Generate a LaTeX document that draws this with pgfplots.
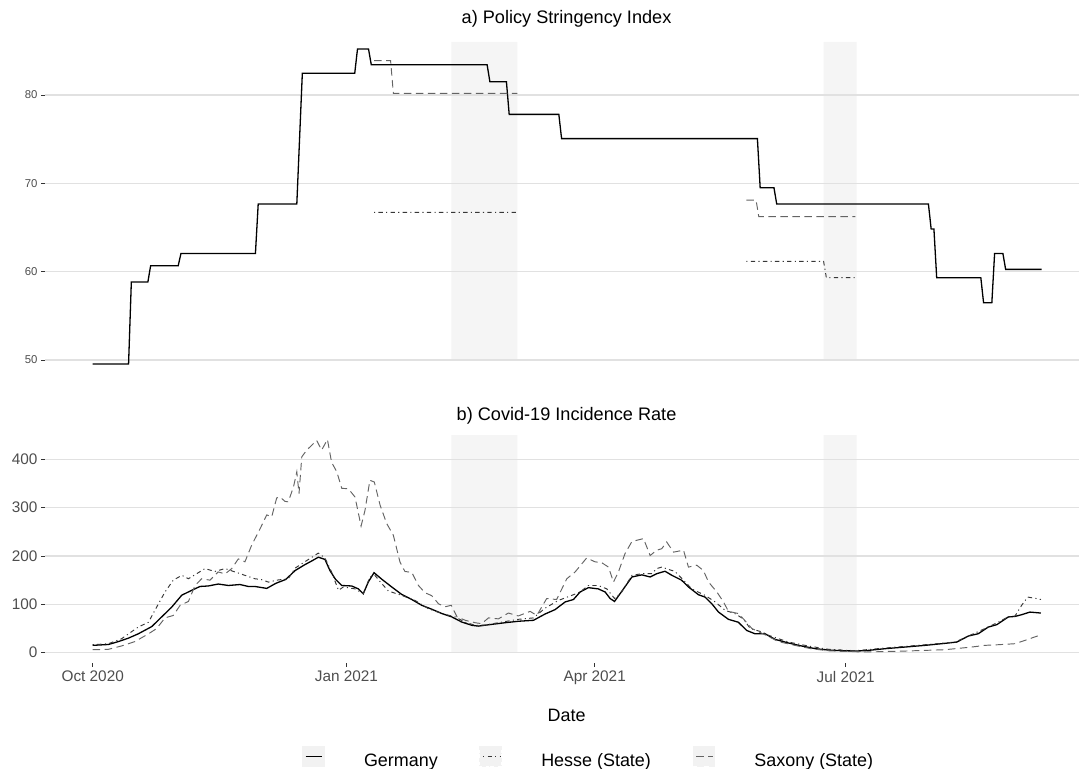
\documentclass[border=0pt]{standalone}
\usepackage{pgfplots}
\pgfplotsset{compat=1.18}
\usepackage{fontspec}
\setmainfont{Liberation Sans}
\definecolor{gridc}{RGB}{225,225,225}
\definecolor{shadec}{RGB}{245,245,245}
\definecolor{tickc}{RGB}{77,77,77}
\definecolor{tickm}{RGB}{51,51,51}
\definecolor{hessec}{RGB}{55,55,55}
\definecolor{saxc}{RGB}{100,100,100}
\pgfplotsset{
 germany/.style={black, line width=1.3bp},
 hesse/.style={hessec, line width=0.95bp, dash pattern=on 1.1bp off 3.3bp on 4.4bp off 3.3bp},
 saxony/.style={saxc, line width=0.95bp, dash pattern=on 7.5bp off 4.5bp},
 basepanel/.style={scale only axis, width=1043.1bp, xmin=-17.3, xmax=360.9,
  axis line style={draw=none}, ymajorgrids, grid style={gridc, line width=1.1bp},
  tick align=outside, major tick length=4bp, tick style={color=tickm, line width=0.8bp},
  tick pos=left, /pgf/number format/assume math mode=true, unbounded coords=jump,
  set layers, clip=true},
 shadeplot/.style={draw=none, fill=shadec, on layer=axis background, forget plot},
}
\begin{document}
\begin{tikzpicture}
% ---------- top panel
\begin{axis}[basepanel, at={(45bp,389bp)}, anchor=south west, height=347bp,
  ymin=47.74, ymax=87.02, ytick={50,60,70,80}, xtick=\empty,
  yticklabel style={font=\fontsize{11.4}{13}\selectfont, text=tickc, anchor=east, inner sep=0pt, xshift=-3.3bp},
  title={a) Policy Stringency Index},
  every axis title/.style={font=\fontsize{18.2}{22}\selectfont, at={(0.5,1)}, anchor=base, yshift=9bp}]
\addplot[shadeplot] coordinates {(130,50) (154,50) (154,86) (130,86) (130,50)};
\addplot[shadeplot] coordinates {(265,50) (277,50) (277,86) (265,86) (265,50)};
\addplot[germany] coordinates {
(0,49.55) (13,49.55) (14,58.83) (20,58.83) (21,60.68) (31,60.68) (32,62.07) (59,62.07)
(60,67.66) (74,67.66) (76,82.46) (95,82.46) (96,85.2) (100,85.2) (101,83.43) (143,83.43)
(144,81.51) (150,81.51) (151,77.81) (169,77.81) (170,75.06) (241,75.06) (242,69.51) (247,69.51)
(248,67.66) (303,67.66) (304,64.83) (305,64.83) (306,59.32) (322,59.32) (323,56.49) (326,56.49)
(327,62.07) (330,62.07) (331,60.26) (344,60.26)};
\addplot[hesse] coordinates {
(102,66.72) (154,66.72) (200,nan) (237,61.17) (265,61.17) (266,59.32) (276.5,59.32)};
\addplot[saxony] coordinates {
(102,83.89) (108,83.89) (109,80.19) (154,80.19) (200,nan) (237,68.11) (240.5,68.11) (241.5,66.23) (276.5,66.23)};
\end{axis}
% ---------- bottom panel
\begin{axis}[basepanel, at={(45bp,106bp)}, anchor=south west, height=236bp,
  ymin=-21.3, ymax=466.8, ytick={0,100,200,300,400},
  xtick={0,92,182,273}, xticklabels={Oct 2020,Jan 2021,Apr 2021,Jul 2021},
  yticklabel style={font=\fontsize{15.4}{18}\selectfont, text=tickc, anchor=east, inner sep=0pt, xshift=-3.3bp},
  xticklabel style={font=\fontsize{15.4}{18}\selectfont, text=tickc, anchor=north, inner sep=0pt, yshift=-4bp},
  title={b) Covid-19 Incidence Rate},
  every axis title/.style={font=\fontsize{18.2}{22}\selectfont, at={(0.5,1)}, anchor=base, yshift=6.3bp},
  xlabel={Date},
  xlabel style={font=\fontsize{18}{22}\selectfont, at={(axis description cs:0.5,0)}, anchor=base, yshift=-59bp},
  legend cell align=left,
  legend image code/.code={\fill[black!5] (0bp,-5.1bp) rectangle (21.6bp,14.9bp); \draw[#1] (3.3bp,4.9bp) -- (20bp,4.9bp);},
  legend style={at={(axis description cs:0.2461,-0.3986)}, anchor=west, draw=none, fill=none, inner sep=0pt, outer sep=0pt,
   legend columns=3, font=\fontsize{18}{22}\selectfont, nodes={inner sep=0pt},
   /tikz/every odd column/.append style={column sep=39.4bp},
   /tikz/every even column/.append style={column sep=41.6bp}}]
\addplot[shadeplot] coordinates {(130,0) (154,0) (154,450) (130,450) (130,0)};
\addplot[shadeplot] coordinates {(265,0) (277,0) (277,450) (265,450) (265,0)};
\addplot[germany] coordinates {
(0,15.2) (5.7,17) (9.3,23) (12.9,30) (16.5,39) (21.4,54) (25,74) (28.6,94) (32.3,119) (35.9,129)
(38.9,137) (41.9,138) (45.5,142) (49.2,139) (53.4,141) (56.4,137) (58.8,137) (63.1,133) (66.4,143.5)
(70,151.5) (73.4,170) (76.9,182) (79.5,190) (81.8,197.5) (84.2,193) (86,170) (88,152) (90.3,139)
(93.9,138) (96.3,132) (98.1,122) (99.9,146) (102,165.5) (104.8,152) (108.4,136) (112,120.7)
(115.7,110) (119.3,98) (122.9,90) (126.6,81) (130.2,74) (133.8,63.4) (137.5,56.6) (139.8,55)
(144.7,58.6) (149.5,62) (154.3,65) (159.8,67) (164,80) (167.6,89) (171.3,105) (174.3,110)
(176.7,125.5) (179.7,134.5) (183.3,132) (185.8,125.5) (187.6,112) (189.2,106) (191.2,122)
(195.5,156.6) (199.1,161) (202.1,156.6) (204.5,163.4) (207.5,168.5) (210,160) (213.5,150)
(216,136) (219.6,120) (222,115) (224.5,101) (226.9,84) (230.5,69) (234.1,63) (237.1,46)
(240.2,39) (243.8,39) (247.4,27.6) (252.3,20) (257.1,13.8) (262,8.3) (266.8,5.5) (271.7,4.1)
(276.5,3.5) (280,4.1) (287.3,8.3) (294.5,11.7) (301.8,15.2) (307.8,18.6) (313.3,22) (317.5,34.5)
(321.1,39.3) (324.7,53) (327.8,58) (332,74) (334.4,75) (336.8,78.6) (339.8,84) (343.8,82)};
\addlegendentry{Germany}
\addplot[hesse] coordinates {
(0,16.5) (5.7,18.6) (10.5,29) (16.5,53) (20.2,63) (23.2,94.5) (26.2,125.5) (29.2,150) (32.3,160)
(34.7,153) (37.7,163.4) (40.7,174) (44.3,168) (48,174) (51.6,167) (55.2,160) (58.8,153) (61.3,151)
(63.7,146) (66.7,150) (70.9,153) (73.4,175) (76.9,188) (81.8,206) (84.2,196) (86.6,167) (89.1,129)
(90.9,136) (95.1,132) (98.1,122) (100.5,156.6) (102.3,160) (104.8,143) (107.2,127.6) (112,118.6)
(116.9,108) (121.7,91) (126.6,81) (131.4,74) (135.1,63) (138.7,56.6) (142,57) (147.1,62) (154.3,69)
(159.8,72) (164,92) (168.8,108) (173.7,118.6) (176.7,125.5) (179.7,139) (183.3,139) (186.4,132)
(189.2,112) (191.8,125.5) (195.5,160) (199.1,163.4) (202.7,163.4) (204.5,174) (206.3,177) (211.1,168)
(214.2,150) (217.2,132) (222,118.6) (225.7,105) (229.3,87.6) (232.9,80.7) (235.9,70) (238.4,50)
(242.6,43) (245,36) (252.3,22) (259.5,13.8) (266.8,7) (276.5,4.1) (287.3,9.7) (301.8,16.5)
(312.7,22) (317.5,34.5) (324.7,53) (332,74) (334.4,75.9) (336.8,98) (339,115) (342.2,112) (343.8,110)};
\addlegendentry{Hesse (State)}
\addplot[saxony] coordinates {
(0,6.2) (5.7,7) (10.5,14) (15.3,23) (20.2,39) (23.2,50) (26.2,72) (29.2,77) (31.7,98) (34.7,106)
(37.1,139) (39.5,153) (42.5,150) (45.5,167) (48,163) (50.4,174) (52.8,194) (55.2,188) (57.6,222)
(60.7,256.6) (63.1,285) (64.9,281) (66.7,320) (67.9,322) (69.7,313) (70.9,312) (72.8,343) (74,374)
(74.8,329) (75.8,405) (77.6,419) (79.4,429) (81.2,439) (83,419) (85.1,441) (86.6,394) (88.5,374)
(90.3,340) (92.7,339) (95.1,322) (97.3,262) (98.7,294) (100.5,356.6) (102.1,353) (104.2,305)
(106.6,267) (109,243) (111.4,187.6) (113.2,168) (115.7,166) (118.1,139) (120.5,124) (122.9,118)
(125.4,101) (127.8,95) (130,98) (132.1,74) (135.1,67) (138.7,62) (141,60) (143.5,72) (147.1,70)
(150.7,82) (154.3,76) (158.6,85.5) (161,77) (164.6,112) (168.2,110) (171.9,153) (174.9,167)
(179.1,196) (182.1,188) (184.6,186) (187,177) (188.8,146) (190.6,167) (193,205) (195.5,230)
(199.7,236) (202.1,201) (204.5,212) (206.3,215) (208.1,229) (210.6,208) (214.2,212) (216,177)
(219,181) (221.4,170) (223.3,146) (226.3,125.5) (228.7,105) (230.5,85.5) (234.1,81) (235.9,70)
(239,50) (243.8,37) (248.6,23) (254.7,15) (260.7,8) (266.8,4) (271.7,2.8) (276.5,2) (280,1.4)
(294.5,3.4) (309,6.2) (318.7,11.7) (323.5,15.2) (328.3,16.5) (334.4,18.6) (338,25.5) (343.8,37)};
\addlegendentry{Saxony (State)}
\end{axis}
\pgfresetboundingbox
\path[use as bounding box] (0,0) rectangle (1079bp,769bp);
\end{tikzpicture}
\end{document}
